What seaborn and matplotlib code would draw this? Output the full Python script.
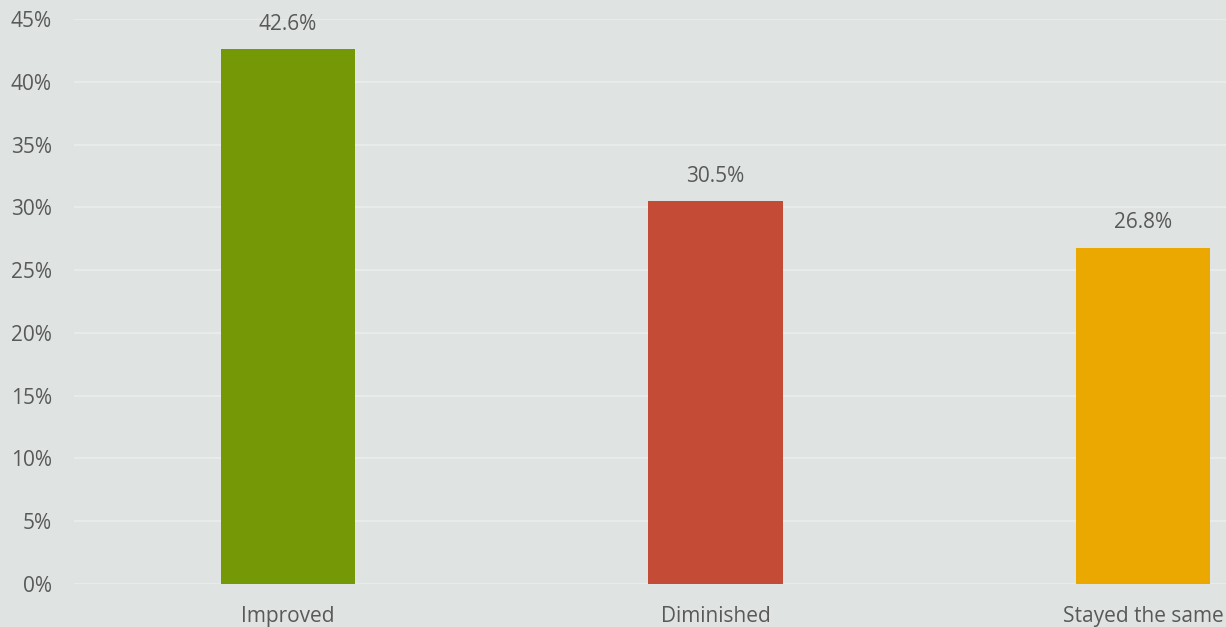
import matplotlib
matplotlib.use("Agg")
import matplotlib.pyplot as plt
import seaborn as sns
import pandas as pd
from matplotlib.ticker import PercentFormatter

# data
categories = ["Improved", "Diminished", "Stayed the same"]
shares = [42.6, 30.5, 26.8]
bar_colors = ["#759806", "#C44B36", "#EAA800"]

bg = "#DFE3E2"
text_col = "#595959"

sns.set_theme(style="whitegrid")
plt.rcParams["font.family"] = ["Open Sans", "DejaVu Sans"]

df = pd.DataFrame({"category": categories, "share": shares})

fig = plt.figure(figsize=(12.26, 6.27), dpi=100, facecolor=bg)
ax = fig.add_axes([0.0604, 0.0686, 0.9396, 0.9011])
ax.set_facecolor(bg)

sns.barplot(data=df, x="category", y="share", hue="category",
            palette=bar_colors, width=0.315, legend=False, ax=ax,
            saturation=1, linewidth=0)

for i, v in enumerate(shares):
    ax.annotate(f"{v:.1f}%", (i, v), xytext=(0, 18), textcoords="offset points",
                ha="center", va="center", fontsize=15, color=text_col)

ax.set_ylim(0, 45)
ax.set_xlim(-0.5, 2.194)
ax.set_yticks(range(0, 50, 5))
ax.yaxis.set_major_formatter(PercentFormatter(decimals=0))
ax.grid(axis="y", color="#E9ECEB", linewidth=1.3)
ax.grid(axis="x", visible=False)
for s in ax.spines.values():
    s.set_visible(False)
ax.tick_params(axis="y", length=0, pad=16, labelsize=15, labelcolor=text_col)
ax.tick_params(axis="x", length=0, pad=16, labelsize=15, labelcolor=text_col)
ax.set_xlabel("")
ax.set_ylabel("")

fig.savefig("out.png", dpi=100, facecolor=bg)
